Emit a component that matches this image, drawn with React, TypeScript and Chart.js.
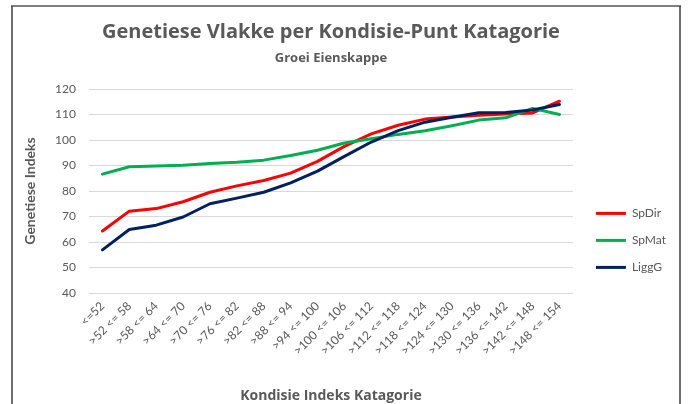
import React, { useEffect, useRef } from "react";
import { Chart, registerables } from "chart.js";

Chart.register(...registerables);

const FONT = "Lato, 'Open Sans', sans-serif";
const TITLE_FONT = "'Open Sans', Lato, sans-serif";
const TEXT_GRAY = "#595959";

const categories = [
  "<=52", ">52 <= 58", ">58 <= 64", ">64 <= 70", ">70 <= 76", ">76 <= 82",
  ">82 <= 88", ">88 <= 94", ">94 <= 100", ">100 <= 106", ">106 <= 112", ">112 <= 118",
  ">118 <= 124", ">124 <= 130", ">130 <= 136", ">136 <= 142", ">142 <= 148", ">148 <= 154",
];

const spDir = [64.3, 72.1, 73.1, 75.8, 79.5, 82.0, 84.1, 87.0, 91.6, 97.5, 102.4, 105.8, 108.2, 109.0, 109.7, 110.2, 110.6, 115.2];
const spMat = [86.6, 89.5, 89.8, 90.1, 90.8, 91.3, 92.1, 93.9, 96.0, 98.8, 100.5, 102.2, 103.6, 105.6, 107.8, 108.7, 112.4, 110.0];
const liggG = [56.9, 64.9, 66.6, 69.8, 75.0, 77.2, 79.5, 83.2, 87.8, 93.6, 99.2, 103.7, 107.0, 108.9, 110.7, 110.8, 111.8, 113.9];

const seriesNames = ["SpDir", "SpMat", "LiggG"];
const seriesColors = ["#ff0000", "#00b050", "#002060"];

const yMin = 40;
const yMax = 120;
const yStep = 10;

const titleText = "Genetiese Vlakke per Kondisie-Punt Katagorie";
const subtitleText = "Groei Eienskappe";
const yTitle = "Genetiese Indeks";
const xTitle = "Kondisie Indeks Katagorie";

const framePlugin = {
  id: "frame",
  beforeDraw(chart: any) {
    const ctx = chart.ctx;
    ctx.save();
    ctx.fillStyle = "#ffffff";
    ctx.fillRect(0, 0, chart.width, chart.height);
    ctx.strokeStyle = "#7f7f7f";
    ctx.lineWidth = 2;
    ctx.beginPath();
    ctx.moveTo(11, 6);
    ctx.lineTo(681, 6);
    ctx.stroke();
    ctx.strokeStyle = "#404040";
    ctx.lineWidth = 1.5;
    ctx.beginPath();
    ctx.moveTo(12, 6);
    ctx.lineTo(12, 404);
    ctx.moveTo(680, 6);
    ctx.lineTo(680, 404);
    ctx.stroke();
    ctx.restore();
  },
};

export default function App() {
  const ref = useRef<HTMLCanvasElement>(null);

  useEffect(() => {
    if (!ref.current) return;
    Chart.defaults.font.family = FONT;
    const values = [spDir, spMat, liggG];
    const orders = [2, 1, 0];
    const chart = new Chart(ref.current, {
      type: "line",
      data: {
        labels: categories,
        datasets: seriesNames.map((name, i) => ({
          label: name,
          data: values[i],
          borderColor: seriesColors[i],
          backgroundColor: seriesColors[i],
          borderWidth: 3,
          pointRadius: 0,
          tension: 0,
          borderJoinStyle: "round" as const,
          borderCapStyle: "round" as const,
          order: orders[i],
          yAxisID: "y",
        })),
      },
      options: {
        responsive: false,
        devicePixelRatio: 1,
        animation: false,
        layout: { padding: { left: 12, top: 6, right: 12, bottom: 0 } },
        plugins: {
          title: {
            display: true,
            text: titleText,
            fullSize: false,
            color: TEXT_GRAY,
            font: { size: 20, weight: "bold", family: TITLE_FONT },
            padding: { top: 14, bottom: 0 },
          },
          subtitle: {
            display: true,
            text: subtitleText,
            fullSize: false,
            color: TEXT_GRAY,
            font: { size: 13, weight: "bold", family: TITLE_FONT },
            padding: { top: 6, bottom: 23.4 },
          },
          legend: {
            position: "right",
            align: "start",
            title: {
              display: true,
              text: "",
              padding: { top: 172, bottom: 0 },
              font: { size: 12 },
            },
            labels: {
              usePointStyle: true,
              pointStyle: "line",
              pointStyleWidth: 30,
              padding: 15,
              color: TEXT_GRAY,
              font: { size: 12, family: FONT },
              sort: (a: any, b: any) => a.datasetIndex - b.datasetIndex,
            },
          },
          tooltip: { enabled: false },
        },
        scales: {
          x: {
            type: "category",
            offset: true,
            grid: { display: false, drawTicks: false },
            border: { display: false },
            ticks: {
              autoSkip: false,
              maxRotation: 45,
              minRotation: 45,
              padding: 6,
              color: TEXT_GRAY,
              font: { size: 12, family: FONT },
            },
            title: {
              display: true,
              text: xTitle,
              color: TEXT_GRAY,
              font: { size: 14, weight: "bold", family: TITLE_FONT },
              padding: { top: 0, bottom: 0 },
            },
            afterFit: (s: any) => {
              s.height = 111;
            },
          },
          y: {
            type: "linear",
            position: "left",
            min: yMin,
            max: yMax,
            grid: { color: "#d9d9d9", drawTicks: false, lineWidth: 1 },
            border: { display: false },
            ticks: {
              stepSize: yStep,
              padding: 13,
              color: TEXT_GRAY,
              font: { size: 12, family: FONT },
            },
            title: {
              display: true,
              text: yTitle,
              color: TEXT_GRAY,
              font: { size: 14, weight: "bold", family: FONT },
              padding: { top: 9.6, bottom: 0 },
            },
            afterFit: (s: any) => {
              s.width = 77;
            },
          },
          yR: {
            type: "linear",
            position: "right",
            display: true,
            grid: { display: false, drawTicks: false },
            border: { display: false },
            ticks: { display: false },
            afterFit: (s: any) => {
              s.width = 8;
            },
          },
        },
      },
      plugins: [framePlugin],
    } as any);
    return () => chart.destroy();
  }, []);

  return (
    <div style={{ position: "absolute", left: 0, top: 0, width: 688, height: 404 }}>
      <canvas ref={ref} width={688} height={404} style={{ display: "block" }} />
    </div>
  );
}
